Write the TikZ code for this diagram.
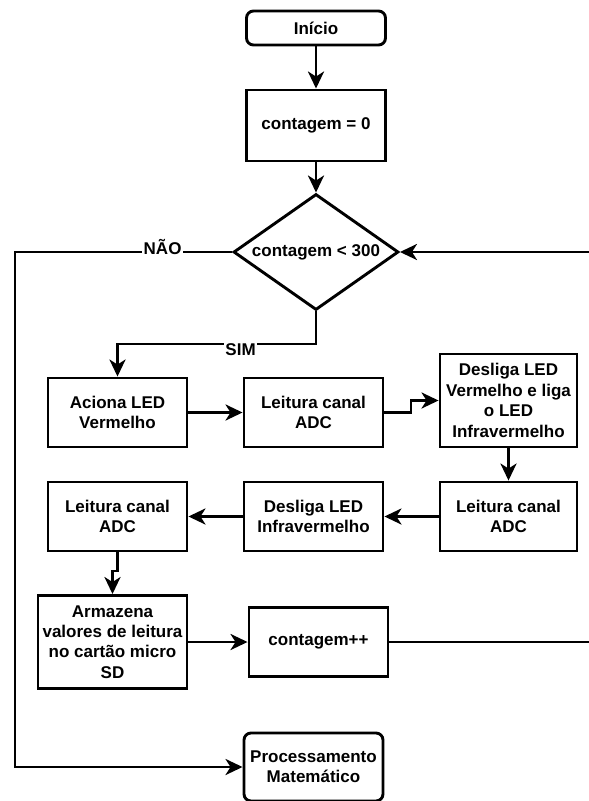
\documentclass[tikz,border=0pt]{standalone}
\usepackage{fontspec}
\setmainfont{Liberation Sans}
\usetikzlibrary{shapes.geometric,arrows.meta}
\begin{document}
\begin{tikzpicture}[x=1pt,y=-1pt,
  every node/.style={font=\fontsize{17}{20.4}\selectfont\bfseries},
  block/.style={draw, line width=2.9pt, minimum width=139pt, minimum height=69pt,
                inner sep=0pt, align=center},
  terminal/.style={block, rounded corners=7pt},
  decision/.style={draw, diamond, aspect=1.42, line width=2.9pt,
                   minimum width=165pt, minimum height=116pt, inner sep=0pt},
  flow/.style={line width=2.9pt, -{Stealth[length=17pt 0 0,width=16pt 0 0,inset=5pt 0 0]}},
  branch/.style={fill=white, inner sep=1.5pt, anchor=base}
]
\useasboundingbox (0,0) rectangle (589,801);

% main column
\node[terminal, minimum height=34pt] (inicio) at (316,28) {Início};
\node[block, minimum height=71pt] (c0) at (316,125.5) {contagem = 0};
\node[decision] (dec) at (316,252) {contagem < 300};

% first row of steps
\node[block] (aciona) at (117.5,412.5) {Aciona LED\\Vermelho};
\node[block] (l1) at (313.5,412.5) {Leitura canal\\ADC};
\node[block, minimum width=137pt, minimum height=93pt] (dv) at (508.5,400.5)
  {Desliga LED\\Vermelho e liga\\o LED\\Infravermelho};

% second row of steps
\node[block, minimum width=137pt] (l2) at (508.5,516.5) {Leitura canal\\ADC};
\node[block] (dir) at (313.5,516.5) {Desliga LED\\Infravermelho};
\node[block] (l3) at (117.5,516.5) {Leitura canal\\ADC};

% storage and counter
\node[block, minimum width=149pt, minimum height=93pt] (arm) at (112.5,642)
  {Armazena\\valores de leitura\\no cartão micro\\SD};
\node[block] (cpp) at (318.5,642) {contagem++};

% end
\node[terminal, minimum height=68pt] (proc) at (313.5,767) {Processamento\\Matemático};

% connectors
\draw[flow] (inicio) -- (c0);
\draw[flow] (c0) -- (dec);
\draw[flow] (dec.west) -- node[branch, pos=0.32, yshift=-2pt] {NÃO} (15,252) |- (proc.west);
\draw[flow] (dec.south) -- (316,344) -| node[branch, pos=0.19, yshift=-11pt] {SIM} (aciona.north);
\draw[flow] (aciona) -- (l1);
\draw[flow] (l1.east) -- (411,412.5) |- (dv.west);
\draw[flow] (dv) -- (l2);
\draw[flow] (l2) -- (dir);
\draw[flow] (dir) -- (l3);
\draw[flow] (l3.south) -- (117.5,571) -| (arm.north);
\draw[flow] (arm.east) -- (cpp.west);
\draw[flow] (cpp.east) -- (604,642) -- (604,252) -- (dec.east);
\end{tikzpicture}
\end{document}
